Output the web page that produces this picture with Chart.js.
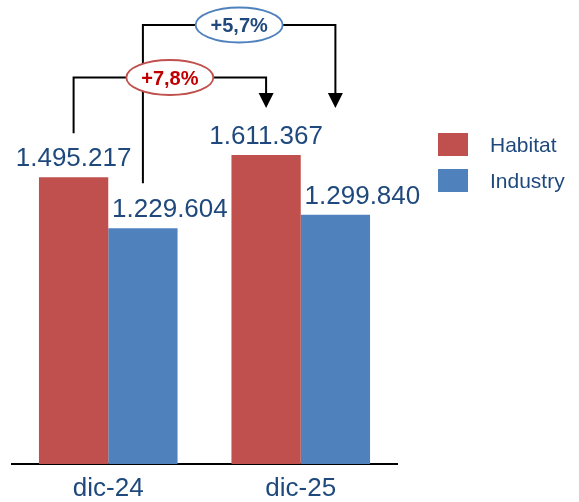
<!DOCTYPE html>
<html lang="it">
<head>
<meta charset="UTF-8">
<title>Habitat / Industry</title>
<script src="https://cdn.jsdelivr.net/npm/chart.js"></script>
<style>
  html, body { margin: 0; padding: 0; background: #fff; }
</style>
</head>
<body>
<canvas id="salesChart" width="579" height="502"></canvas>
<script>
// periods and yearly totals
const periods = ['dic-24', 'dic-25'];
const habitat = [1495217, 1611367];
const industry = [1229604, 1299840];

const RED = '#C0504D';
const BLUE = '#4F81BD';
const NAVY = '#1F497D';
const FONT = '"Liberation Sans", Arial, sans-serif';

Chart.defaults.font.family = FONT;

// 1495217 -> "1.495.217"
function fmt(v) {
  return String(v).replace(/\B(?=(\d{3})+(?!\d))/g, '.');
}
function growth(a, b) {
  return '+' + ((b / a - 1) * 100).toFixed(1).replace('.', ',') + '%';
}

// industry numbers sit a bit to the right so the bracket line stays clear
const labelShift = [0, 27];

const valueLabels = {
  id: 'valueLabels',
  afterDatasetsDraw(chart) {
    const ctx = chart.ctx;
    ctx.save();
    ctx.font = '26px ' + FONT;
    ctx.fillStyle = NAVY;
    ctx.textAlign = 'center';
    ctx.textBaseline = 'alphabetic';
    chart.data.datasets.forEach((ds, i) => {
      chart.getDatasetMeta(i).data.forEach((bar, j) => {
        ctx.fillText(fmt(ds.data[j]), bar.x + labelShift[i], bar.y - 11);
      });
    });
    ctx.restore();
  }
};

// year-on-year brackets, industry first so the habitat bubble covers its line
const brackets = [
  { ds: 1, level: 25, gap: 45, stroke: BLUE, text: NAVY },
  { ds: 0, level: 77.5, gap: 44, stroke: RED, text: '#C00000' }
];
const ARROW_TIP = 108;

const growthArrows = {
  id: 'growthArrows',
  afterDraw(chart) {
    const ctx = chart.ctx;
    ctx.save();
    brackets.forEach(b => {
      const bars = chart.getDatasetMeta(b.ds).data;
      const vals = chart.data.datasets[b.ds].data;
      const x0 = bars[0].x, x1 = bars[1].x;
      ctx.strokeStyle = '#000';
      ctx.fillStyle = '#000';
      ctx.lineWidth = 2;
      ctx.lineJoin = 'miter';
      ctx.beginPath();
      ctx.moveTo(x0, bars[0].y - b.gap);
      ctx.lineTo(x0, b.level);
      ctx.lineTo(x1, b.level);
      ctx.lineTo(x1, ARROW_TIP - 14);
      ctx.stroke();
      ctx.beginPath();
      ctx.moveTo(x1 - 7.5, ARROW_TIP - 15);
      ctx.lineTo(x1 + 7.5, ARROW_TIP - 15);
      ctx.lineTo(x1, ARROW_TIP);
      ctx.closePath();
      ctx.fill();

      const cx = (x0 + x1) / 2;
      ctx.beginPath();
      ctx.ellipse(cx, b.level, 43.5, 17.5, 0, 0, Math.PI * 2);
      ctx.fillStyle = '#fff';
      ctx.fill();
      ctx.strokeStyle = b.stroke;
      ctx.lineWidth = 1.8;
      ctx.stroke();

      ctx.font = 'bold 20px ' + FONT;
      ctx.fillStyle = b.text;
      ctx.textAlign = 'center';
      ctx.textBaseline = 'middle';
      ctx.fillText(growth(vals[0], vals[1]), cx, b.level + 1.5);
    });
    ctx.restore();
  }
};

const sideLegend = {
  id: 'sideLegend',
  afterDraw(chart) {
    const ctx = chart.ctx;
    const x = chart.chartArea.right + 41;
    ctx.save();
    ctx.font = '21px ' + FONT;
    ctx.textAlign = 'left';
    ctx.textBaseline = 'middle';
    chart.data.datasets.forEach((ds, i) => {
      const y = 133 + i * 36;
      ctx.fillStyle = ds.backgroundColor;
      ctx.fillRect(x, y, 30, 23);
      ctx.fillStyle = NAVY;
      ctx.fillText(ds.label, x + 52, y + 13);
    });
    ctx.restore();
  }
};

new Chart(document.getElementById('salesChart'), {
  type: 'bar',
  data: {
    labels: periods,
    datasets: [
      { label: 'Habitat', data: habitat, backgroundColor: RED },
      { label: 'Industry', data: industry, backgroundColor: BLUE }
    ]
  },
  options: {
    responsive: false,
    animation: false,
    layout: { padding: { left: 12, right: 182, top: 0, bottom: 0 } },
    datasets: { bar: { categoryPercentage: 0.72, barPercentage: 1 } },
    plugins: { legend: { display: false }, tooltip: { enabled: false } },
    scales: {
      x: {
        grid: { display: false, drawTicks: true, tickLength: 12 },
        border: { display: true, color: '#000', width: 2 },
        ticks: { color: NAVY, padding: 0, font: { size: 26, lineHeight: 1 } }
      },
      y: { display: false, min: 0, max: 2420000 }
    }
  },
  plugins: [valueLabels, growthArrows, sideLegend]
});
</script>
</body>
</html>
